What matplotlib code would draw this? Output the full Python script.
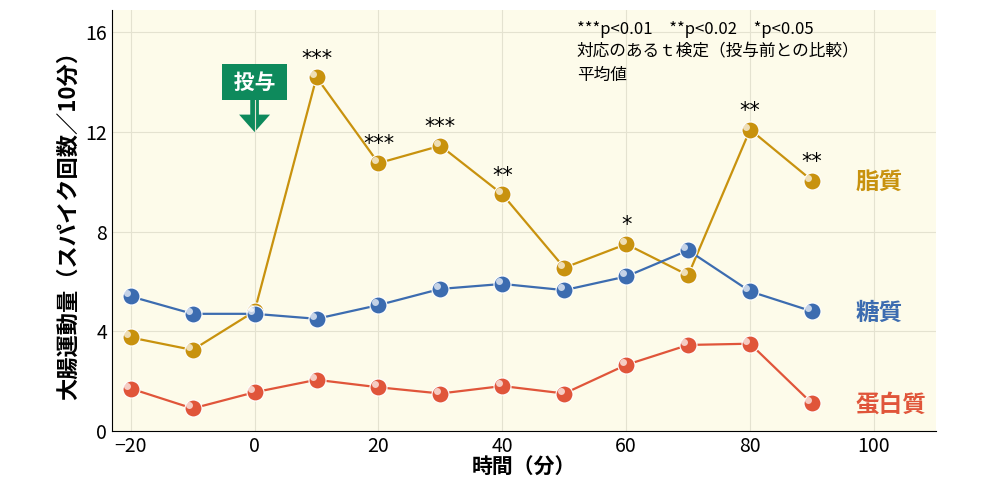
import matplotlib
matplotlib.use("Agg")
import matplotlib.pyplot as plt
from matplotlib.patches import FancyArrow

plt.rcParams["font.family"] = "Noto Sans CJK JP"

time = [-20, -10, 0, 10, 20, 30, 40, 50, 60, 70, 80, 90]
fat = [3.75, 3.25, 4.8, 14.2, 10.75, 11.45, 9.5, 6.55, 7.5, 6.25, 12.1, 10.05]
sugar = [5.4, 4.7, 4.7, 4.5, 5.05, 5.7, 5.9, 5.65, 6.2, 7.25, 5.6, 4.8]
protein = [1.7, 0.9, 1.55, 2.05, 1.75, 1.5, 1.8, 1.5, 2.65, 3.45, 3.5, 1.1]
fat_sig = ["", "", "", "***", "***", "***", "**", "", "*", "", "**", "**"]

series = [("脂質", fat, "#c8920e"),
          ("糖質", sugar, "#3c6cb0"),
          ("蛋白質", protein, "#e0553a")]

fig = plt.figure(figsize=(10.01, 5.01), dpi=100)
ax = fig.add_axes([0.112, 0.14, 0.823, 0.84])
ax.set_facecolor("#fdfbea")
ax.set_xlim(-23, 110)
ax.set_ylim(0, 16.9)
ax.set_xticks([-20, 0, 20, 40, 60, 80, 100])
ax.set_xticklabels(["−20", "0", "20", "40", "60", "80", "100"])
ax.set_yticks([0, 4, 8, 12, 16])
ax.grid(color="#e4e2d0", lw=0.8)
for s in ["top", "right"]:
    ax.spines[s].set_visible(False)
ax.tick_params(labelsize=14, direction="in", length=0)
ax.set_xlabel("時間（分）", fontsize=15, fontweight="bold", labelpad=0)
ax.set_ylabel("大腸運動量（スパイク回数／10分）", fontsize=16, fontweight="bold", labelpad=4)

for name, vals, c in series:
    ax.plot(time, vals, color=c, lw=1.6, zorder=2)
    ax.scatter(time, vals, s=150, color=c, edgecolor="white", lw=0.8, zorder=3)
    ax.scatter([t - 0.6 for t in time], [v + 0.12 for v in vals], s=25, color="white", alpha=0.7, lw=0, zorder=4)
    ax.text(97, vals[-1] - 0.05 if name != "蛋白質" else 1.05, name, color=c, fontsize=17,
            fontweight="bold", va="center", ha="left")

for t, v, s in zip(time, fat, fat_sig):
    if s:
        ax.text(t, v + 0.35, s, ha="center", va="bottom", fontsize=15, fontfamily="DejaVu Sans")

ax.text(52, 15.2, "***p<0.01　**p<0.02　*p<0.05\n対応のあるｔ検定（投与前との比較）\n平均値",
        fontsize=12, va="center", linespacing=1.45)

ax.text(0, 14.0, " 投与 ", ha="center", va="center", fontsize=15, fontweight="bold", color="white",
        bbox=dict(boxstyle="square,pad=0.35", fc="#0e8a5c", ec="none"))
ax.add_patch(FancyArrow(0, 13.3, 0, -1.3, width=1.4, head_width=5, head_length=0.7,
                        length_includes_head=True, color="#0e8a5c", lw=0))

fig.savefig("out.png")
